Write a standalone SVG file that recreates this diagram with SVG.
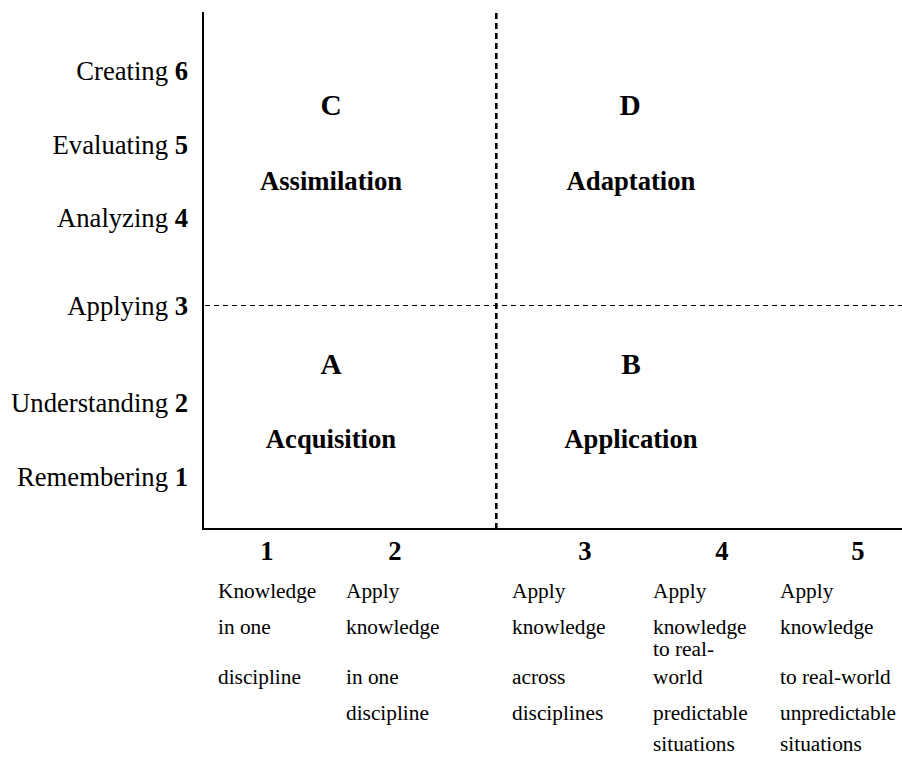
<svg xmlns="http://www.w3.org/2000/svg" width="902" height="760" viewBox="0 0 902 760">
  <style>
    text { font-family: "Liberation Serif", "Times New Roman", serif; fill: #000; }
    .lvl { font-size: 26.67px; text-anchor: end; }
    .b { font-weight: bold; }
    .quad { font-size: 29.33px; font-weight: bold; text-anchor: middle; }
    .qname { font-size: 26.67px; font-weight: bold; text-anchor: middle; }
    .num { font-size: 26.67px; font-weight: bold; text-anchor: middle; }
    .desc { font-size: 21.33px; }
    .axis { stroke: #000; stroke-width: 2; fill: none; }
    .split-h { stroke: #000; stroke-width: 1.2; stroke-dasharray: 5 4; fill: none; }
    .split-v { stroke: #000; stroke-width: 2.6; stroke-dasharray: 6 4; fill: none; }
  </style>
  <rect width="902" height="760" fill="#fff"/>

  <!-- axes and quadrant dividers -->
  <g id="connectors">
    <path class="axis" d="M203,12 V529 H902"/>
    <line class="split-h" x1="205" y1="305.5" x2="902" y2="305.5"/>
    <line class="split-v" x1="496.3" y1="13" x2="496.3" y2="528"/>
  </g>

  <!-- vertical scale: cognitive levels -->
  <g id="levels">
    <text class="lvl" x="188" y="79.5">Creating <tspan class="b">6</tspan></text>
    <text class="lvl" x="188" y="154">Evaluating <tspan class="b">5</tspan></text>
    <text class="lvl" x="188" y="227">Analyzing <tspan class="b">4</tspan></text>
    <text class="lvl" x="188" y="315">Applying <tspan class="b">3</tspan></text>
    <text class="lvl" x="188" y="412">Understanding <tspan class="b">2</tspan></text>
    <text class="lvl" x="188" y="486">Remembering <tspan class="b">1</tspan></text>
  </g>

  <!-- quadrants -->
  <g id="quadrant-c">
    <text class="quad" x="331" y="115">C</text>
    <text class="qname" x="331" y="190">Assimilation</text>
  </g>
  <g id="quadrant-d">
    <text class="quad" x="630" y="115">D</text>
    <text class="qname" x="631" y="190">Adaptation</text>
  </g>
  <g id="quadrant-a">
    <text class="quad" x="331" y="374">A</text>
    <text class="qname" x="331" y="448">Acquisition</text>
  </g>
  <g id="quadrant-b">
    <text class="quad" x="631" y="374">B</text>
    <text class="qname" x="631" y="448">Application</text>
  </g>

  <!-- horizontal scale: application levels -->
  <g id="application-1">
    <text class="num" x="267" y="560">1</text>
    <text class="desc" x="218" y="598">Knowledge</text>
    <text class="desc" x="218" y="634">in one</text>
    <text class="desc" x="218" y="684">discipline</text>
  </g>
  <g id="application-2">
    <text class="num" x="395" y="560">2</text>
    <text class="desc" x="346" y="598">Apply</text>
    <text class="desc" x="346" y="634">knowledge</text>
    <text class="desc" x="346" y="684">in one</text>
    <text class="desc" x="346" y="720">discipline</text>
  </g>
  <g id="application-3">
    <text class="num" x="585" y="560">3</text>
    <text class="desc" x="512" y="598">Apply</text>
    <text class="desc" x="512" y="634">knowledge</text>
    <text class="desc" x="512" y="684">across</text>
    <text class="desc" x="512" y="720">disciplines</text>
  </g>
  <g id="application-4">
    <text class="num" x="722" y="560">4</text>
    <text class="desc" x="653" y="598">Apply</text>
    <text class="desc" x="653" y="634">knowledge</text>
    <text class="desc" x="653" y="656">to real-</text>
    <text class="desc" x="653" y="684">world</text>
    <text class="desc" x="653" y="720">predictable</text>
    <text class="desc" x="653" y="751">situations</text>
  </g>
  <g id="application-5">
    <text class="num" x="858" y="560">5</text>
    <text class="desc" x="780" y="598">Apply</text>
    <text class="desc" x="780" y="634">knowledge</text>
    <text class="desc" x="780" y="684">to real-world</text>
    <text class="desc" x="780" y="720">unpredictable</text>
    <text class="desc" x="780" y="751">situations</text>
  </g>
</svg>
